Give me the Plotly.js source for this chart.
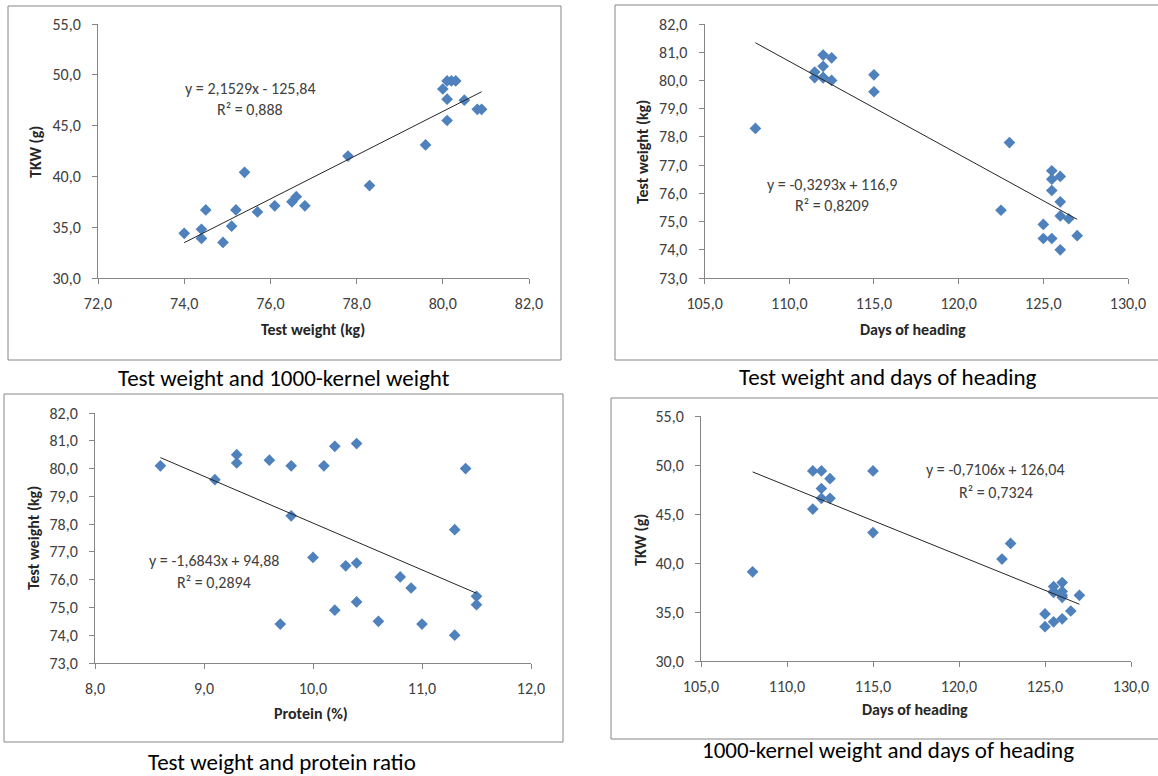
<!DOCTYPE html>
<html>
<head>
<meta charset="utf-8">
<script src="https://cdn.plot.ly/plotly-3.0.1.min.js"></script>
<style>html,body{margin:0;padding:0;background:#fff}#chart{width:1158px;height:776px}</style>
</head>
<body>
<div id="chart"></div>
<script>
// ---------- Panel 1: Test weight (kg) vs TKW (g) ----------
const testWeight1 = [74.0, 74.4, 74.4, 74.5, 74.9, 75.1, 75.2, 75.4, 75.7, 76.1, 76.5, 76.6, 76.8, 77.8, 78.3, 79.6, 80.0, 80.1, 80.1, 80.1, 80.2, 80.3, 80.5, 80.8, 80.9];
const tkw1 = [34.4, 34.8, 33.9, 36.7, 33.5, 35.1, 36.7, 40.4, 36.5, 37.1, 37.5, 38.0, 37.1, 42.0, 39.1, 43.1, 48.6, 47.6, 45.5, 49.4, 49.4, 49.4, 47.5, 46.6, 46.6];
const fit1 = {slope: 2.1529, intercept: -125.84, r2: "0,888", eq: "y = 2,1529x - 125,84"};

// ---------- Panel 2: Days of heading vs Test weight (kg) ----------
const heading2 = [108.0, 111.5, 111.5, 112.0, 112.0, 112.0, 112.0, 112.5, 112.5, 115.0, 115.0, 122.5, 123.0, 125.0, 125.0, 125.5, 125.5, 125.5, 125.5, 126.0, 126.0, 126.0, 126.0, 126.5, 127.0];
const testWeight2 = [78.3, 80.1, 80.3, 80.9, 80.5, 80.1, 80.1, 80.8, 80.0, 80.2, 79.6, 75.4, 77.8, 74.9, 74.4, 76.8, 76.5, 76.1, 74.4, 76.6, 75.7, 75.2, 74.0, 75.1, 74.5];
const fit2 = {slope: -0.3293, intercept: 116.9, r2: "0,8209", eq: "y = -0,3293x + 116,9"};

// ---------- Panel 3: Protein (%) vs Test weight ----------
const protein3 = [8.6, 9.1, 9.3, 9.3, 9.6, 9.8, 9.8, 9.7, 10.0, 10.1, 10.2, 10.2, 10.3, 10.4, 10.4, 10.4, 10.6, 10.8, 10.9, 11.0, 11.3, 11.3, 11.4, 11.5, 11.5];
const testWeight3 = [80.1, 79.6, 80.5, 80.2, 80.3, 80.1, 78.3, 74.4, 76.8, 80.1, 80.8, 74.9, 76.5, 80.9, 76.6, 75.2, 74.5, 76.1, 75.7, 74.4, 77.8, 74.0, 80.0, 75.4, 75.1];
const fit3 = {slope: -1.6843, intercept: 94.88, r2: "0,2894", eq: "y = -1,6843x + 94,88"};

// ---------- Panel 4: Days of heading vs TKW (g) ----------
const heading4 = [108.0, 111.5, 111.5, 112.0, 112.0, 112.0, 112.5, 112.5, 115.0, 115.0, 122.5, 123.0, 125.0, 125.0, 125.5, 125.5, 125.5, 126.0, 126.0, 126.0, 126.0, 126.0, 126.5, 127.0, 125.5];
const tkw4 = [39.1, 49.4, 45.5, 49.4, 47.6, 46.6, 48.6, 46.6, 49.4, 43.1, 40.4, 42.0, 34.8, 33.5, 37.6, 37.0, 34.0, 38.0, 36.7, 36.5, 34.3, 37.1, 35.1, 36.7, 37.1];
const fit4 = {slope: -0.7106, intercept: 126.04, r2: "0,7324", eq: "y = -0,7106x + 126,04"};

// Axis labels and captions
const captions = ["Test weight and 1000-kernel weight", "Test weight and days of heading", "Test weight and protein ratio", "1000-kernel weight and days of heading"];
const xTitles = ["Test weight (kg)", "Days of heading", "Protein (%)", "Days of heading"];
const yTitles = ["TKW (g)", "Test weight (kg)", "Test weight (kg)", "TKW (g)"];

const W = 1158, H = 776;
const px = v => v / W;
const py = v => 1 - v / H;
const FONT = "Carlito, Calibri, Lato, sans-serif";
const BLUE = "#4F81BD";
const GREY = "#868686";

const panels = [
  {x: testWeight1, y: tkw1, fit: fit1, xr: [72, 82], xd: 2, yr: [30, 55], yd: 5,
   dom: {x: [98, 529], y: [24, 278]}, box: [8, 6, 561, 360], eqPos: [250, 88], cap: [284, 378],
   xt: [313, 329], yt: [36, 152]},
  {x: heading2, y: testWeight2, fit: fit2, xr: [105, 130], xd: 5, yr: [73, 82], yd: 1,
   dom: {x: [704.6, 1128], y: [24, 278]}, box: [615, 5, 1170, 360], eqPos: [832, 184], cap: [888, 377],
   xt: [913, 329], yt: [643, 152]},
  {x: protein3, y: testWeight3, fit: fit3, xr: [8, 12], xd: 1, yr: [73, 82], yd: 1,
   dom: {x: [95, 531], y: [413, 663]}, box: [4, 394, 563, 742], eqPos: [214, 560], cap: [282, 762],
   xt: [311, 713], yt: [33, 538]},
  {x: heading4, y: tkw4, fit: fit4, xr: [105, 130], xd: 5, yr: [30, 55], yd: 5,
   dom: {x: [701, 1131], y: [416, 661]}, box: [611, 398, 1170, 739], eqPos: [996, 470], cap: [888, 750],
   xt: [915, 709], yt: [640, 540]}
];

const data = [];
const layout = {
  width: W, height: H,
  margin: {l: 0, r: 0, t: 0, b: 0},
  paper_bgcolor: "#ffffff", plot_bgcolor: "#ffffff",
  separators: ",.",
  showlegend: false,
  font: {family: FONT, color: "#404040"},
  shapes: [], annotations: []
};

const titleFont = {family: FONT, size: 16, color: "#262626", weight: "bold"};

panels.forEach((p, i) => {
  const n = i + 1;
  const xa = "x" + (n === 1 ? "" : n), ya = "y" + (n === 1 ? "" : n);
  data.push({
    type: "scatter", mode: "markers", x: p.x, y: p.y, xaxis: xa, yaxis: ya,
    marker: {symbol: "diamond", size: 9, color: BLUE, line: {width: 0}},
    hoverinfo: "x+y"
  });
  const xmin = Math.min(...p.x), xmax = Math.max(...p.x);
  data.push({
    type: "scatter", mode: "lines", x: [xmin, xmax],
    y: [p.fit.slope * xmin + p.fit.intercept, p.fit.slope * xmax + p.fit.intercept],
    xaxis: xa, yaxis: ya, line: {color: "#262626", width: 1}, hoverinfo: "skip"
  });
  const axCommon = {
    showgrid: false, zeroline: false, showline: true, linecolor: GREY, linewidth: 1,
    ticks: "outside", ticklen: 5, tickcolor: GREY, tickwidth: 1,
    tickformat: ".1f", tickfont: {family: FONT, size: 16, color: "#404040"},
    fixedrange: true, automargin: false
  };
  layout["xaxis" + (n === 1 ? "" : n)] = Object.assign({}, axCommon, {
    domain: [px(p.dom.x[0]), px(p.dom.x[1])], range: p.xr, dtick: p.xd, tick0: p.xr[0],
    anchor: ya, ticklabelstandoff: 6
  });
  layout["yaxis" + (n === 1 ? "" : n)] = Object.assign({}, axCommon, {
    domain: [py(p.dom.y[1]), py(p.dom.y[0])], range: p.yr, dtick: p.yd, tick0: p.yr[0],
    anchor: xa, ticklabelstandoff: 8
  });
  // axis titles
  layout.annotations.push({xref: "paper", yref: "paper", x: px(p.xt[0]), y: py(p.xt[1]),
    text: xTitles[i], showarrow: false, xanchor: "center", yanchor: "middle", font: titleFont});
  layout.annotations.push({xref: "paper", yref: "paper", x: px(p.yt[0]), y: py(p.yt[1]),
    text: yTitles[i], showarrow: false, xanchor: "center", yanchor: "middle", textangle: -90, font: titleFont});
  // chart frame
  layout.shapes.push({type: "rect", xref: "paper", yref: "paper",
    x0: px(p.box[0]), x1: px(p.box[2]), y0: py(p.box[3]), y1: py(p.box[1]),
    line: {color: GREY, width: 1}, fillcolor: "rgba(0,0,0,0)", layer: "below"});
  // trend equation
  layout.annotations.push({xref: "paper", yref: "paper", x: px(p.eqPos[0]), y: py(p.eqPos[1]),
    text: p.fit.eq, showarrow: false, xanchor: "center", yanchor: "middle",
    font: {family: FONT, size: 16, color: "#404040"}});
  layout.annotations.push({xref: "paper", yref: "paper", x: px(p.eqPos[0]), y: py(p.eqPos[1] + 22),
    text: "R² = " + p.fit.r2, showarrow: false, xanchor: "center", yanchor: "middle",
    font: {family: FONT, size: 16, color: "#404040"}});
  // caption
  layout.annotations.push({xref: "paper", yref: "paper", x: px(p.cap[0]), y: py(p.cap[1]),
    text: captions[i], showarrow: false, xanchor: "center", yanchor: "middle",
    font: {family: FONT, size: 23, color: "#000000"}});
});

Plotly.newPlot("chart", data, layout, {displayModeBar: false});
</script>
</body>
</html>
